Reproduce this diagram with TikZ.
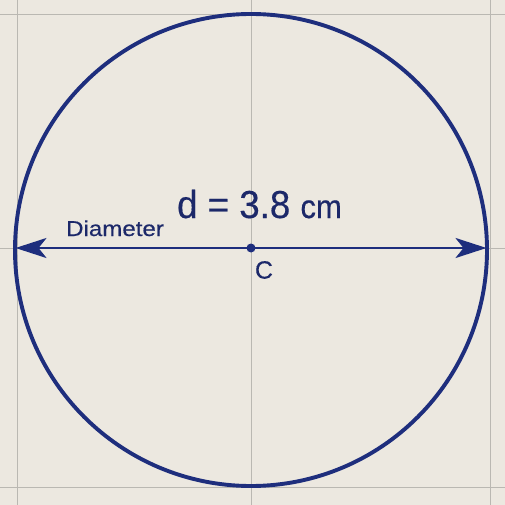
\documentclass[tikz,border=0pt]{standalone}
\usepackage{fontspec}
\setmainfont{Liberation Sans}[FakeBold=0.4]
\usetikzlibrary{arrows.meta}
\definecolor{paper}{RGB}{236,232,224}
\definecolor{gridgray}{RGB}{186,184,178}
\definecolor{navy}{RGB}{30,46,125}
\definecolor{inknavy}{RGB}{28,40,105}
\tikzset{
  gridline/.style={draw=gridgray, line width=0.6pt},
  rim/.style={draw=navy, line width=3.9pt},
  diam/.style={draw=navy, line width=2.6pt, {Stealth[length=31pt,width=20pt,inset=8pt]}-{Stealth[length=31pt,width=20pt,inset=8pt]}},
  centerdot/.style={circle, fill=navy, inner sep=0pt, minimum size=9pt},
  lbl/.style={text=inknavy, inner sep=0pt},
}
\begin{document}
\begin{tikzpicture}[x=1pt,y=-1pt]
\useasboundingbox (0,0) rectangle (505,505);
\fill[paper] (0,0) rectangle (505,505);
% grid
\draw[gridline] (17,0) -- (17,505);
\draw[gridline] (251,0) -- (251,505);
\draw[gridline] (490,0) -- (490,505);
\draw[gridline] (0,14) -- (505,14);
\draw[gridline] (0,248) -- (505,248);
\draw[gridline] (0,487) -- (505,487);
% circle
\draw[rim] (251,250) circle[radius=236];
% diameter
\coordinate (L) at (15.5,248);
\coordinate (R) at (486.5,248);
\draw[diam] (L) -- (R);
\node[centerdot] (c) at (251,248) {};
% labels
\node[lbl, anchor=base] (d) at (259.5,218) {\scalebox{0.94}[1]{\fontsize{39}{39}\selectfont d = 3.8 \fontsize{33}{33}\selectfont cm}};
\node[lbl, anchor=base west] (dia) at (66,236) {\scalebox{1.12}[1]{\fontsize{21.5}{21.5}\selectfont Diameter}};
\node[lbl] (clbl) at (264,270) {\fontsize{25}{25}\selectfont C};
\end{tikzpicture}
\end{document}
